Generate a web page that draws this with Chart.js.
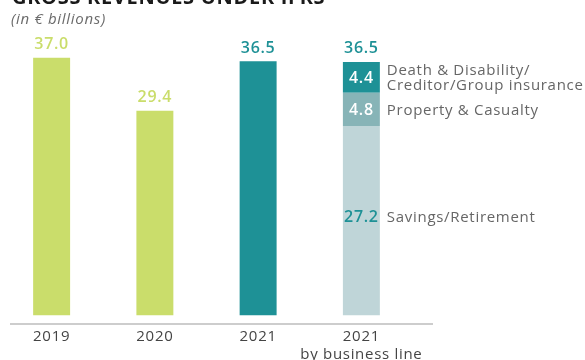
<!DOCTYPE html>
<html>
<head>
<meta charset="utf-8">
<script src="https://cdn.jsdelivr.net/npm/chart.js@4"></script>
<style>
  html, body { margin: 0; padding: 0; background: #fff; }
  #wrap { width: 585px; height: 360px; position: relative; }
</style>
</head>
<body>
<div id="wrap"><canvas id="revChart" width="585" height="360"></canvas></div>
<script>
// gross revenues, in EUR billions
const years = ['2019', '2020', '2021', ['2021', 'by business line']];
const totals = [37.0, 29.4, 36.5, 36.5];
const savings = [null, null, null, 27.2];
const property = [null, null, null, 4.8];
const death = [null, null, null, 4.4];
const lineNames = ['Savings/Retirement', 'Property & Casualty', ['Death & Disability/', 'Creditor/Group insurance']];

const green = '#cadd6b';
const teal = '#1e9196';
const FONT = "'Open Sans', sans-serif";

// a bit of tracking on every label so the text sits wider
const tracking = {
  id: 'tracking',
  beforeDraw(chart) {
    chart.ctx.letterSpacing = '0.7px';
  }
};

// headings, value labels, side labels and the base line
const decor = {
  id: 'decor',
  afterDatasetsDraw(chart) {
    const ctx = chart.ctx;
    const area = chart.chartArea;
    ctx.save();

    ctx.fillStyle = '#1a1a1a';
    ctx.font = 'bold 20px ' + FONT;
    ctx.textAlign = 'left';
    ctx.textBaseline = 'alphabetic';
    ctx.fillText('GROSS REVENUES UNDER IFRS', 12, 4);

    ctx.fillStyle = '#6b6b6b';
    ctx.font = 'italic 15px ' + FONT;
    ctx.fillText('(in € billions)', 11, 24);

    // base line
    ctx.strokeStyle = '#bdbdbd';
    ctx.lineWidth = 1.5;
    ctx.beginPath();
    ctx.moveTo(10, area.bottom + 8.5);
    ctx.lineTo(433, area.bottom + 8.5);
    ctx.stroke();

    // totals above bars
    ctx.textAlign = 'center';
    ctx.textBaseline = 'bottom';
    ctx.font = '600 16px ' + FONT;
    const y = chart.scales.y;
    const base = chart.getDatasetMeta(0).data;
    totals.forEach((v, i) => {
      const bar = base[i];
      ctx.fillStyle = i < 2 ? green : teal;
      ctx.fillText(v.toFixed(1), bar.x, y.getPixelForValue(v) - 5);
    });

    // stacked segments
    const segColors = ['#1e9196', '#ffffff', '#ffffff'];
    [1, 2, 3].forEach((d, k) => {
      const bar = chart.getDatasetMeta(d).data[3];
      const val = chart.data.datasets[d].data[3];
      const mid = (bar.y + bar.base) / 2 + (k === 0 ? -4 : 0);
      ctx.font = '600 16px ' + FONT;
      ctx.textAlign = 'center';
      ctx.textBaseline = 'middle';
      ctx.fillStyle = segColors[k];
      ctx.fillText(val.toFixed(1), bar.x, mid + 1);

      ctx.font = '15px ' + FONT;
      ctx.textAlign = 'left';
      ctx.fillStyle = '#666';
      const name = lineNames[k];
      const lines = Array.isArray(name) ? name : [name];
      const x = bar.x + bar.width / 2 + 7;
      lines.forEach((t, j) => {
        ctx.fillText(t, x, mid + 1 + (j - (lines.length - 1) / 2) * 15);
      });
    });
    ctx.restore();
  }
};

new Chart(document.getElementById('revChart'), {
  type: 'bar',
  data: {
    labels: years,
    datasets: [
      { label: 'Total', data: totals.map((v, i) => i < 3 ? v : null), backgroundColor: [green, green, teal, teal] },
      { label: lineNames[0], data: savings, backgroundColor: '#bfd5d8' },
      { label: lineNames[1], data: property, backgroundColor: '#87b4b7' },
      { label: lineNames[2].join(''), data: death, backgroundColor: teal }
    ]
  },
  options: {
    responsive: false,
    animation: false,
    devicePixelRatio: 1,
    layout: { padding: { left: 0, right: 172, top: 0, bottom: -16 } },
    datasets: { bar: { categoryPercentage: 1, barPercentage: 0.358 } },
    plugins: { legend: { display: false }, tooltip: { enabled: false } },
    scales: {
      x: {
        stacked: true,
        grid: { display: false, drawTicks: false },
        border: { display: false },
        ticks: {
          color: '#444',
          padding: 13,
          autoSkip: false,
          font: { family: FONT, size: 15, lineHeight: 1.15 },
          maxRotation: 0
        }
      },
      y: {
        stacked: true,
        display: false,
        min: 0,
        max: 45.3
      }
    }
  },
  plugins: [tracking, decor]
});
</script>
</body>
</html>
